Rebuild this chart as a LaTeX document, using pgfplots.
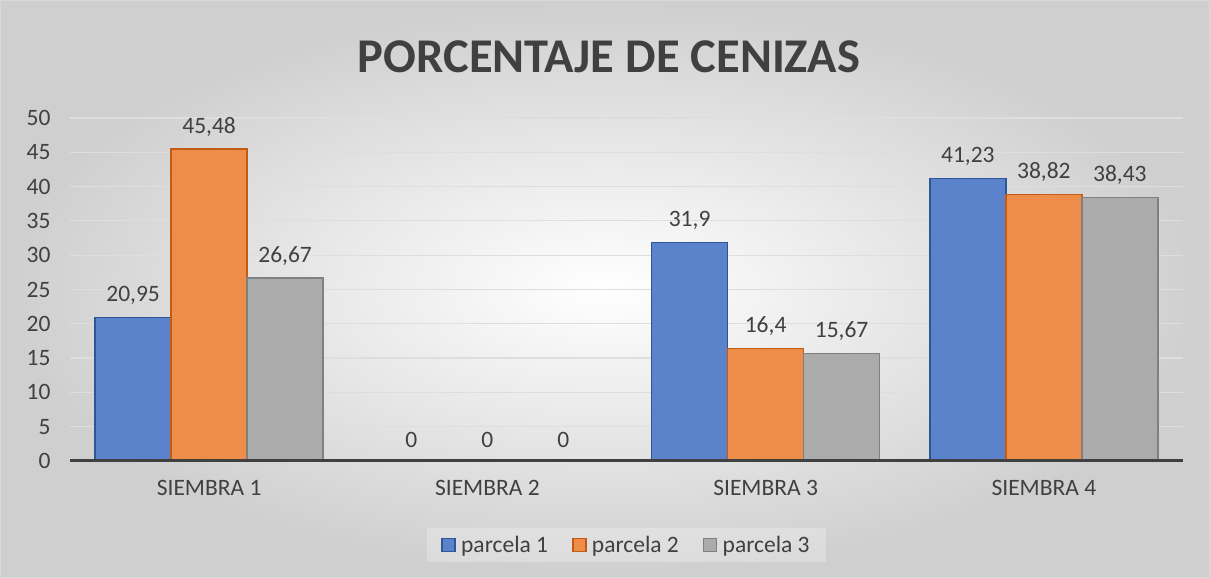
\documentclass[border=0pt]{standalone}
\usepackage{fontspec}
\setmainfont{Carlito}
\usepackage{pgfplots}
\pgfplotsset{compat=1.18}

\definecolor{pblue}{HTML}{5A83CB}
\definecolor{pblueedge}{HTML}{2F5597}
\definecolor{porange}{HTML}{EE8C4A}
\definecolor{porangeedge}{HTML}{C55A11}
\definecolor{pgray}{HTML}{ABABAB}
\definecolor{pgrayedge}{HTML}{808080}
\definecolor{txt}{HTML}{404040}

\begin{document}
\begin{tikzpicture}[x=1pt,y=1pt]
% chart background
\shade[inner color=white, outer color=black!19] (0,0) rectangle (1210,578);
\draw[black!15] (0.5,0.5) rectangle (1209.5,577.5);
\node[font=\fontsize{48.5}{56}\selectfont\bfseries, text=txt] at (609,521) {PORCENTAJE DE CENIZAS};

\begin{axis}[
    at={(70pt,117pt)}, anchor=south west,
    scale only axis, clip=false,
    width=1113pt, height=343pt,
    ybar=0pt, bar width=76pt,
    ymin=0, ymax=50,
    xmin=-0.5, xmax=3.5,
    ytick={0,5,...,50},
    xtick={0,1,2,3},
    xticklabels={SIEMBRA 1,SIEMBRA 2,SIEMBRA 3,SIEMBRA 4},
    ymajorgrids,
    grid style={draw=black!13, line width=1.2pt},
    axis line style={draw=none},
    major tick length=0pt,
    /pgf/number format/assume math mode=true,
    /pgf/number format/use comma,
    /pgf/number format/1000 sep={},
    ticklabel style={font=\fontsize{23.5}{28}\selectfont, text=txt},
    yticklabel style={anchor=east, xshift=-16pt},
    xticklabel style={yshift=-16pt},
    nodes near coords,
    every node near coord/.append style={font=\fontsize{23.5}{28}\selectfont, text=txt, yshift=9pt},
    legend style={at={(0.5,-0.245)}, anchor=center, draw=none,
        fill=white, fill opacity=0.25, text opacity=1, inner xsep=14pt, inner ysep=6pt,
        legend columns=3, font=\fontsize{23.5}{28}\selectfont, text=txt,
        /tikz/every even column/.append style={column sep=22pt}},
    legend image code/.code={\draw[#1, line width=1.6pt, fill opacity=1] (0pt,-6.5pt) rectangle (13pt,6.5pt);
        \path[draw=none, fill=none] (0pt,0pt) -- (17pt,0pt);},
]
\addplot[fill=pblue, draw=pblueedge, line width=1.3pt] coordinates {(0,20.95) (1,0) (2,31.9) (3,41.23)};
\addplot[fill=porange, draw=porangeedge, line width=1.3pt] coordinates {(0,45.48) (1,0) (2,16.4) (3,38.82)};
\addplot[fill=pgray, draw=pgrayedge, line width=1.3pt] coordinates {(0,26.67) (1,0) (2,15.67) (3,38.43)};
\legend{parcela 1, parcela 2, parcela 3}
\draw[draw=txt, line width=3pt] (axis cs:-0.5,0) -- (axis cs:3.5,0);
\end{axis}
\end{tikzpicture}
\end{document}
